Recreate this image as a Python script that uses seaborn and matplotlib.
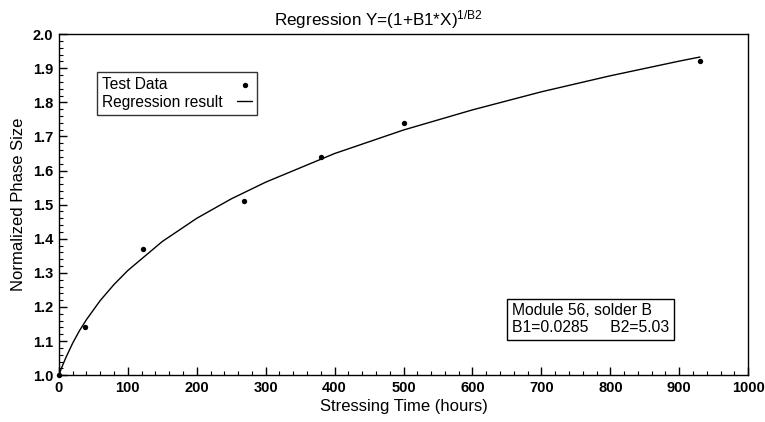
import matplotlib
matplotlib.use("Agg")
import matplotlib.pyplot as plt
import seaborn as sns
import pandas as pd
from matplotlib.ticker import MultipleLocator, FormatStrFormatter

# Test data
test_x = [0, 38, 122, 268, 380, 500, 930]
test_y = [1.00, 1.14, 1.37, 1.51, 1.64, 1.74, 1.92]

# Regression curve
curve_x = [0, 2.5, 5, 10, 20, 30, 40, 60, 80, 100, 150, 200, 250, 300,
           400, 500, 600, 700, 800, 900, 930]
curve_y = [1.000, 1.014, 1.027, 1.051, 1.094, 1.131, 1.163, 1.219, 1.266,
           1.307, 1.392, 1.460, 1.517, 1.566, 1.650, 1.719, 1.778, 1.831,
           1.878, 1.921, 1.933]

title_text = r"Regression Y=(1+B1*X)$^{1/B2}$"
x_label = "Stressing Time (hours)"
y_label = "Normalized Phase Size"
legend_labels = ["Test Data", "Regression result"]
note_text = "Module 56, solder B\nB1=0.0285     B2=5.03"

sns.set_style("white")
plt.rcParams["font.family"] = ["Liberation Sans", "DejaVu Sans"]
plt.rcParams["mathtext.fontset"] = "custom"
plt.rcParams["mathtext.rm"] = "Liberation Sans"
plt.rcParams["mathtext.it"] = "Liberation Sans"
plt.rcParams["mathtext.bf"] = "Liberation Sans:bold"
for key in ["text.color", "axes.labelcolor", "xtick.color", "ytick.color",
            "axes.edgecolor"]:
    plt.rcParams[key] = "black"

fig = plt.figure(figsize=(7.65, 4.22), dpi=100)
ax = fig.add_axes([0.077, 0.111, 0.901, 0.808])

df_pts = pd.DataFrame({"x": test_x, "y": test_y})
df_curve = pd.DataFrame({"x": curve_x, "y": curve_y})

sns.lineplot(data=df_curve, x="x", y="y", ax=ax, color="black", linewidth=1.0,
             label=legend_labels[1], sort=False, estimator=None)
sns.scatterplot(data=df_pts, x="x", y="y", ax=ax, color="black", s=15,
                edgecolor="black", linewidth=0, label=legend_labels[0],
                zorder=5, clip_on=False)

ax.set_xlim(0, 1000)
ax.set_ylim(1.0, 2.0)
ax.xaxis.set_major_locator(MultipleLocator(100))
ax.xaxis.set_minor_locator(MultipleLocator(20))
ax.yaxis.set_major_locator(MultipleLocator(0.1))
ax.yaxis.set_minor_locator(MultipleLocator(0.02))
ax.yaxis.set_major_formatter(FormatStrFormatter("%.1f"))
ax.tick_params(which="major", direction="in", length=6, width=1, color="black",
               labelsize=10.5, pad=4, top=False, right=False, bottom=True, left=True)
ax.tick_params(which="minor", direction="in", length=3, width=0.8, color="black",
               top=False, right=False, bottom=True, left=True)
for lbl in ax.get_xticklabels() + ax.get_yticklabels():
    lbl.set_fontweight("bold")
for sp in ax.spines.values():
    sp.set_color("black")
    sp.set_linewidth(1.0)

ax.set_xlabel(x_label, fontsize=12, labelpad=3)
ax.set_ylabel(y_label, fontsize=12, labelpad=5)
fig.text(0.495, 0.953, title_text, fontsize=12.3, ha="center", va="center")

handles, labels = ax.get_legend_handles_labels()
order = [labels.index(legend_labels[0]), labels.index(legend_labels[1])]
leg = ax.legend([handles[i] for i in order], [labels[i] for i in order],
                loc="upper left", bbox_to_anchor=(0.055, 0.889), markerfirst=False,
                fontsize=11.2, frameon=True, fancybox=False, edgecolor="black",
                handlelength=0.95, handletextpad=0.6, borderpad=0.33,
                labelspacing=0.17, borderaxespad=0)
leg.get_frame().set_linewidth(1.0)
# left-align texts, right-align handles within a fixed row width (pixels)
col = leg._legend_handle_box.get_children()[0]
for row in col.get_children():
    row.mode = "expand"
    row.width = 150

ax.text(0.657, 0.164, note_text, transform=ax.transAxes, fontsize=11.3,
        ha="left", va="center", linespacing=1.15,
        bbox=dict(boxstyle="square,pad=0.3", facecolor="white", edgecolor="black",
                  linewidth=1.0))
fig.savefig("out.png", dpi=100)
